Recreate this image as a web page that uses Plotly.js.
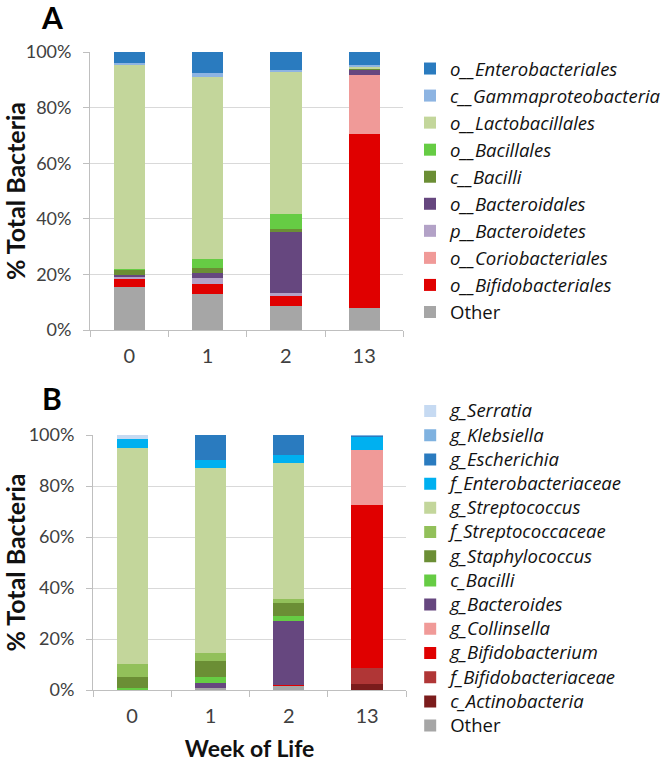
<!DOCTYPE html>
<html>
<head>
<meta charset="utf-8">
<script src="https://cdn.plot.ly/plotly-3.0.1.min.js"></script>
<style>
  body { margin: 0; background: #fff; }
  #chart { width: 666px; height: 768px; }
</style>
</head>
<body>
<div id="chart"></div>
<script>
// weeks of life (x categories, shared by both panels)
const weeks = ['0', '1', '2', '13'];

// Panel A - order level, listed bottom of stack to top (% of total)
const namesA = ['Other', 'o__Bifidobacteriales', 'o__Coriobacteriales', 'p__Bacteroidetes',
  'o__Bacteroidales', 'c__Bacilli', 'o__Bacillales', 'o__Lactobacillales',
  'c__Gammaproteobacteria', 'o__Enterobacteriales'];
const otherA          = [15.6, 12.9, 8.7, 8.0];
const bifidobacterialesA = [2.8, 3.5, 3.6, 62.6];
const coriobacterialesA  = [0, 0, 0, 21.1];
const bacteroidetesA  = [0.5, 2.2, 1.1, 0];
const bacteroidalesA  = [0.8, 2.0, 21.9, 2.0];
const bacilliA        = [2.0, 1.6, 1.2, 0.2];
const bacillalesA     = [0.4, 3.5, 5.1, 0];
const lactobacillalesA = [73.4, 65.4, 51.2, 0.8];
const gammaA          = [0.7, 1.5, 0.9, 0.7];
const enterobacterialesA = [3.8, 7.5, 6.3, 4.6];
const valuesA = [otherA, bifidobacterialesA, coriobacterialesA, bacteroidetesA, bacteroidalesA,
  bacilliA, bacillalesA, lactobacillalesA, gammaA, enterobacterialesA];
const colorsA = ['#a6a6a6', '#e00000', '#f09a98', '#b3a2c7', '#66477f',
  '#6b8e35', '#66cc44', '#c3d69b', '#8db4e2', '#2a7bbf'];

// Panel B - genus level, bottom of stack to top (% of total)
const namesB = ['Other', 'c_Actinobacteria', 'f_Bifidobacteriaceae', 'g_Bifidobacterium',
  'g_Collinsella', 'g_Bacteroides', 'c_Bacilli', 'g_Staphylococcus', 'f_Streptococcaceae',
  'g_Streptococcus', 'f_Enterobacteriaceae', 'g_Escherichia', 'g_Klebsiella', 'g_Serratia'];
const otherB          = [0, 0.8, 1.7, 0];
const actinobacteriaB = [0, 0, 0, 2.2];
const bifidobacteriaceaeB = [0, 0, 0, 6.5];
const bifidobacteriumB = [0, 0, 0.3, 63.8];
const collinsellaB    = [0, 0, 0, 21.6];
const bacteroidesB    = [0, 2.0, 25.1, 0];
const bacilliB        = [0.7, 2.2, 2.1, 0];
const staphylococcusB = [4.3, 6.4, 4.9, 0];
const streptococcaceaeB = [5.3, 3.0, 1.7, 0];
const streptococcusB  = [84.7, 72.5, 53.1, 0];
const enterobacteriaceaeB = [3.4, 3.3, 3.3, 5.0];
const escherichiaB    = [0, 9.8, 8.1, 0.7];
const klebsiellaB     = [0, 0, 0, 0.2];
const serratiaB       = [1.6, 0, 0, 0];
const valuesB = [otherB, actinobacteriaB, bifidobacteriaceaeB, bifidobacteriumB, collinsellaB,
  bacteroidesB, bacilliB, staphylococcusB, streptococcaceaeB, streptococcusB,
  enterobacteriaceaeB, escherichiaB, klebsiellaB, serratiaB];
const colorsB = ['#a6a6a6', '#7b1c1c', '#b03636', '#e00000', '#f09a98', '#66477f',
  '#66cc44', '#6b8e35', '#92c05a', '#c3d69b', '#00b0f0', '#2a7bbf', '#7fb2e0', '#c6daf2'];

const fontFam = 'Lato, "Open Sans", sans-serif';
const legFam = '"Open Sans", Lato, sans-serif';
const label = n => n === 'Other' ? n : '<i>' + n + '</i>';
// panel B rows are tighter than its text size, so enlarge the text only
const labelB = n => '<span style="font-size:18.5px">' + label(n) + '</span>';

const traces = [];
namesA.forEach((n, i) => {
  traces.push({
    type: 'bar', x: weeks, y: valuesA[i], name: label(n),
    xaxis: 'x', yaxis: 'y', legend: 'legend',
    width: 0.4, marker: {color: colorsA[i], line: {width: 0}},
    hoverinfo: 'name+y'
  });
});
namesB.forEach((n, i) => {
  traces.push({
    type: 'bar', x: weeks, y: valuesB[i], name: labelB(n),
    xaxis: 'x2', yaxis: 'y2', legend: 'legend2',
    width: 0.4, marker: {color: colorsB[i], line: {width: 0}},
    hoverinfo: 'name+y'
  });
});

const yax = (domain, anchor) => ({
  domain: domain, anchor: anchor, range: [0, 100], dtick: 20, ticksuffix: '%',
  showgrid: true, gridcolor: '#d9d9d9', gridwidth: 1,
  showline: true, linecolor: '#bfbfbf', ticks: 'outside', ticklen: 6, tickcolor: '#bfbfbf',
  ticklabelstandoff: 8, zeroline: false, fixedrange: true,
  tickfont: {family: fontFam, size: 18, color: '#404040'},
  title: {text: '<b>% Total Bacteria</b>', standoff: 6,
    font: {family: fontFam, size: 25, color: '#111'}}
});
const xax = (domain, anchor, title) => ({
  domain: domain, anchor: anchor, type: 'category',
  showline: true, linecolor: '#bfbfbf', ticks: 'outside', ticklen: 6, tickcolor: '#bfbfbf',
  tickson: 'boundaries', showgrid: false, fixedrange: true, ticklabelstandoff: 8,
  tickfont: {family: fontFam, size: 20, color: '#404040'},
  title: {text: title, standoff: 14, font: {family: fontFam, size: 23, color: '#111'}}
});

const layout = {
  width: 666, height: 768,
  margin: {l: 0, r: 0, t: 0, b: 0},
  paper_bgcolor: '#fff', plot_bgcolor: '#fff',
  barmode: 'stack', bargap: 0.6,
  xaxis: xax([92 / 666, 412 / 666], 'y', ''),
  yaxis: yax([1 - 330 / 768, 1 - 52 / 768], 'x'),
  xaxis2: xax([95 / 666, 415 / 666], 'y2', '<b>Week of Life</b>'),
  yaxis2: yax([1 - 690 / 768, 1 - 435 / 768], 'x2'),
  legend: {
    x: 419 / 666, y: 1 - 50 / 768, xanchor: 'left', yanchor: 'top',
    traceorder: 'reversed',
    font: {family: legFam, size: 18.5, color: '#111'}, bgcolor: 'rgba(0,0,0,0)'
  },
  legend2: {
    x: 419 / 666, y: 1 - 394 / 768, xanchor: 'left', yanchor: 'top',
    traceorder: 'reversed',
    font: {family: legFam, size: 16.3, color: '#111'}, bgcolor: 'rgba(0,0,0,0)'
  },
  annotations: [
    {text: '<b>A</b>', xref: 'paper', yref: 'paper', x: 53 / 666, y: 1 - 17 / 768,
      xanchor: 'center', yanchor: 'middle',
      showarrow: false, font: {family: fontFam, size: 30, color: '#000'}},
    {text: '<b>B</b>', xref: 'paper', yref: 'paper', x: 53 / 666, y: 1 - 398 / 768,
      xanchor: 'center', yanchor: 'middle',
      showarrow: false, font: {family: fontFam, size: 30, color: '#000'}}
  ]
};

Plotly.newPlot('chart', traces, layout, {displayModeBar: false, staticPlot: true});
</script>
</body>
</html>
